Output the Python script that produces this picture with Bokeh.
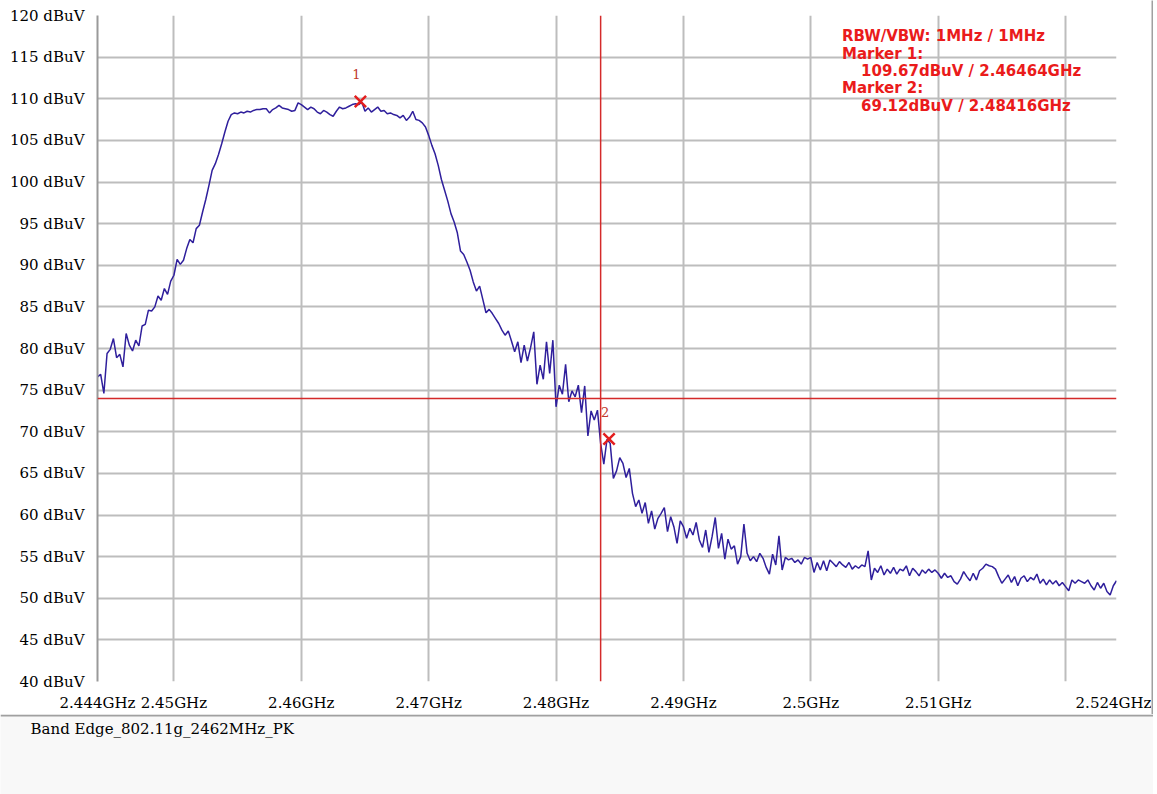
from bokeh.plotting import figure
from bokeh.models import Range1d, FixedTicker, Span, Label
from bokeh.layouts import column, row
from bokeh.embed import file_html
from bokeh.resources import INLINE
from bokeh.core.properties import value
import numpy as np

# ---------------- data ----------------
START_GHZ = 2.444
STOP_GHZ = 2.524

levels = [
    76.6, 76.9, 74.6, 79.4, 79.9, 81.2, 78.9, 79.3, 77.8, 81.8,
    80.4, 79.7, 81.0, 80.3, 82.7, 82.9, 84.6, 84.5, 85.0, 86.3,
    85.8, 87.2, 86.5, 88.1, 88.8, 90.7, 90.1, 90.6, 92.0, 93.1,
    92.7, 94.4, 94.8, 96.4, 97.9, 99.6, 101.4, 102.2, 103.3, 104.6,
    106.0, 107.3, 108.1, 108.3, 108.2, 108.4, 108.3, 108.5, 108.4, 108.6,
    108.7, 108.7, 108.8, 108.8, 108.3, 108.7, 108.9, 109.2, 108.9, 108.8,
    108.7, 108.5, 108.6, 109.5, 109.3, 109.0, 108.7, 109.0, 108.8, 108.4,
    108.2, 108.6, 108.4, 108.1, 107.9, 108.5, 109.0, 108.8, 108.9, 109.1,
    109.3, 109.4, 109.3, 109.6, 108.5, 108.9, 108.4, 108.7, 109.0, 108.5,
    108.6, 108.2, 108.3, 108.1, 108.0, 107.7, 108.0, 107.4, 107.8, 108.5,
    107.5, 107.4, 107.1, 106.6, 105.6, 104.4, 103.4, 102.0, 100.3, 99.0,
    97.7, 96.2, 95.2, 93.9, 91.7, 91.3, 90.4, 89.4, 88.0, 86.9,
    87.5, 85.9, 84.3, 84.7, 84.2, 83.6, 83.0, 82.2, 81.6, 82.1,
    80.9, 79.6, 80.8, 78.3, 80.4, 78.5, 80.1, 82.0, 75.7, 78.0,
    76.3, 80.8, 77.0, 81.0, 73.0, 75.6, 74.5, 78.1, 73.6, 74.9,
    74.2, 75.6, 72.3, 75.5, 69.5, 72.5, 71.4, 72.6, 68.6, 66.1,
    69.1, 68.6, 64.4, 65.3, 66.9, 66.2, 64.5, 65.6, 62.6, 61.0,
    61.8, 60.2, 61.5, 59.0, 60.5, 58.3, 59.6, 60.2, 60.9, 58.0,
    59.8, 58.6, 56.6, 59.3, 58.6, 57.2, 58.4, 57.6, 59.1, 57.0,
    56.1, 58.2, 55.5, 57.4, 59.7, 56.0, 57.8, 54.7, 57.1, 55.9,
    56.3, 54.1, 55.0, 58.9, 55.4, 54.5, 55.0, 54.4, 55.4, 54.8,
    53.7, 52.9, 55.3, 54.0, 57.5, 53.4, 54.9, 54.6, 54.8, 54.3,
    54.6, 54.1, 54.9, 54.7, 54.9, 53.1, 54.3, 53.4, 54.5, 53.3,
    54.6, 54.2, 53.8, 54.4, 54.0, 53.7, 54.3, 53.5, 53.9, 53.6,
    54.0, 53.8, 55.7, 52.2, 53.6, 53.1, 53.9, 52.8, 53.5, 53.0,
    53.7, 52.9, 53.5, 53.3, 53.9, 52.7, 53.6, 53.2, 52.7, 53.4,
    53.0, 53.5, 53.1, 53.4, 53.0, 52.4, 53.0, 52.5, 52.7, 52.0,
    51.7, 52.3, 53.2, 52.6, 52.1, 53.0, 52.2, 53.3, 53.6, 54.1,
    53.9, 53.8, 53.5, 52.6, 51.8, 52.3, 52.8, 51.9, 52.6, 51.5,
    52.4, 52.7, 52.0, 52.5, 52.2, 52.9, 51.8, 52.3, 51.6, 52.2,
    51.7, 52.1, 51.5, 51.9, 51.4, 50.9, 52.2, 51.8, 52.2, 52.0,
    51.8, 52.2, 51.5, 51.0, 51.9, 51.2, 51.8, 50.8, 50.4, 51.5,
    52.1,
]
freqs = np.linspace(START_GHZ, STOP_GHZ, len(levels))

limit_level = 74.0
band_edge_ghz = 2.4835

marker_ids = ["1", "2"]
marker_freq = [2.46464, 2.48416]
marker_level = [109.67, 69.12]

x_ticks = [2.444, 2.45, 2.46, 2.47, 2.48, 2.49, 2.5, 2.51, 2.524]
x_tick_labels = ["2.444GHz", "2.45GHz", "2.46GHz", "2.47GHz", "2.48GHz",
                 "2.49GHz", "2.5GHz", "2.51GHz", "2.524GHz"]
x_grid = [2.45, 2.46, 2.47, 2.48, 2.49, 2.5, 2.51, 2.52]
y_ticks = [40, 45, 50, 55, 60, 65, 70, 75, 80, 85, 90, 95, 100, 105, 110, 115, 120]
y_tick_labels = [f"{v} dBuV" for v in y_ticks]

rbw_vbw = "RBW/VBW: 1MHz / 1MHz"
footer_text = "Band Edge_802.11g_2462MHz_PK"

# ---------------- styles ----------------
SERIF = "DejaVu Serif"
GRID = "#bdbdbd"
TRACE = "#2f1f9c"
RED_LINE = "#d42a2a"
RED_TXT = "#ea1b1b"
FRAME_GRAY = "#a0a0a0"

p = figure(width=1151, height=714,
           x_range=Range1d(START_GHZ, STOP_GHZ), y_range=Range1d(40, 120),
           output_backend="svg", toolbar_location=None,
           min_border_left=97, min_border_right=35,
           min_border_top=15, min_border_bottom=33,
           background_fill_color="white", border_fill_color="white")
p.outline_line_color = None
p.frame_align = False

p.xgrid.ticker = FixedTicker(ticks=x_grid)
p.ygrid.ticker = FixedTicker(ticks=y_ticks[1:])
p.grid.grid_line_color = GRID
p.grid.grid_line_width = 2

p.xaxis.ticker = FixedTicker(ticks=x_ticks)
p.xaxis.major_label_overrides = dict(zip(x_ticks, x_tick_labels))
p.yaxis.ticker = FixedTicker(ticks=y_ticks)
p.yaxis.major_label_overrides = dict(zip(y_ticks, y_tick_labels))
for ax in (p.xaxis, p.yaxis):
    ax.major_tick_line_color = None
    ax.minor_tick_line_color = None
    ax.major_label_text_font = SERIF
    ax.major_label_text_font_size = "15px"
    ax.major_label_text_color = "black"
p.xaxis.axis_line_color = None
p.yaxis.axis_line_color = "#9a9a9a"
p.yaxis.axis_line_width = 2
p.xaxis.major_label_standoff = 6
p.yaxis.major_label_standoff = 7

p.add_layout(Span(location=limit_level, dimension="width",
                  line_color=RED_LINE, line_width=1.5))
p.add_layout(Span(location=band_edge_ghz, dimension="height",
                  line_color=RED_LINE, line_width=1.5))

p.line(freqs, levels, line_color=TRACE, line_width=1.5)

p.scatter(marker_freq, marker_level, marker="x", size=16,
          line_color="#e31e1e", line_width=2.5)
p.text(marker_freq, marker_level, text=marker_ids, x_offset=-4, y_offset=-27,
       text_align="center", text_baseline="middle",
       text_font=value(SERIF), text_font_size="13px", text_color="#c0392b")

ann_x = 2.50245
ann_y = 117.5
ann_lines = [
    (rbw_vbw, 0),
    ("Marker 1:", 0),
    (f"{marker_level[0]:.2f}dBuV / {marker_freq[0]:.5f}GHz", 19),
    ("Marker 2:", 0),
    (f"{marker_level[1]:.2f}dBuV / {marker_freq[1]:.5f}GHz", 19),
]
for k, (txt, dx) in enumerate(ann_lines):
    p.add_layout(Label(x=ann_x, y=ann_y, x_offset=dx, y_offset=-17.3 * k,
                       text=txt, text_baseline="middle", text_align="left",
                       text_font="DejaVu Sans", text_font_style="bold",
                       text_font_size="15px", text_color=RED_TXT))

# thin strip acting as the right border of the chart panel
edge = figure(width=2, height=714, output_backend="svg", toolbar_location=None,
              min_border=0, x_axis_type=None, y_axis_type=None,
              background_fill_color=FRAME_GRAY, border_fill_color=FRAME_GRAY)
edge.outline_line_color = None
edge.frame_align = False
edge.grid.visible = False

# ---------------- footer ----------------
f = figure(width=1153, height=80, x_range=Range1d(0, 1153), y_range=Range1d(0, 80),
           output_backend="svg", toolbar_location=None, min_border=0,
           x_axis_type=None, y_axis_type=None,
           background_fill_color="#f8f8f8", border_fill_color="#f8f8f8")
f.outline_line_color = None
f.frame_align = False
f.grid.visible = False
f.add_layout(Span(location=79, dimension="width", line_color=FRAME_GRAY, line_width=2))
f.add_layout(Label(x=30, y=66, text=footer_text, text_baseline="middle",
                   text_font=SERIF, text_font_size="15px", text_color="black"))

layout = column(row(p, edge, spacing=0), f, spacing=0)
open("out.html", "w").write(file_html(layout, INLINE))
